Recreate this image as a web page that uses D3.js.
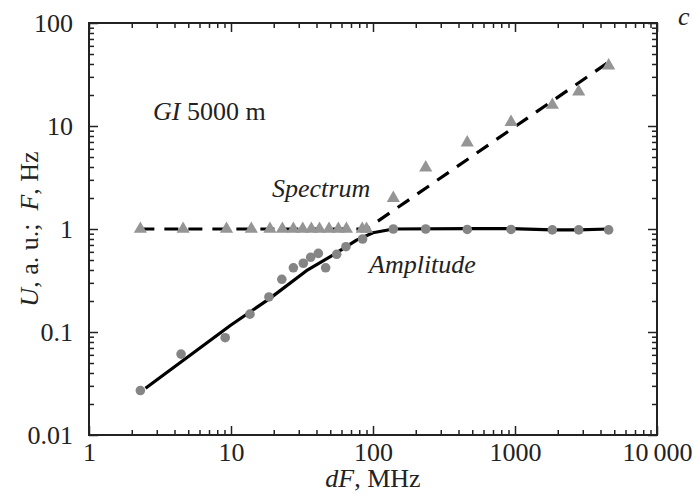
<!DOCTYPE html>
<html>
<head>
<meta charset="utf-8">
<script src="https://cdn.jsdelivr.net/npm/d3@7"></script>
<style>
  body { margin: 0; background: #fff; }
  svg { display: block; }
  text { font-family: "Liberation Serif", "Times New Roman", serif; }
  .tick text { font-size: 26px; fill: #222; }
  .lbl { font-size: 26px; fill: #222; }
</style>
</head>
<body>
<svg width="693" height="495"></svg>
<script>
// values (dF in MHz)
const ampFreq = [2.3, 4.45, 9.1, 13.6, 18.5, 22.8, 27.5, 32.3, 36.4, 41.2, 46.4, 55.5, 64.5, 84.5, 139, 235, 461, 938, 1832, 2810, 4565]
const ampValue = [0.027, 0.061, 0.088, 0.149, 0.219, 0.325, 0.42, 0.465, 0.531, 0.58, 0.42, 0.568, 0.673, 0.8, 1.0, 1.0, 0.99, 0.99, 0.98, 0.98, 0.98]

const specFreq = [2.3, 4.6, 9.3, 13.9, 18.8, 23, 27.5, 32, 36.8, 42, 49, 57, 65, 84, 90, 139, 235, 461, 938, 1832, 2810, 4565]
const specValue = [1, 1, 1, 1, 1, 1, 1, 1, 1, 1, 1, 1, 1, 1, 1, 1.99, 3.94, 6.89, 10.9, 16.0, 21.5, 38.5]

// fitted curves
const ampFitFreq = [2.5, 10, 18.8, 34, 52.5, 76.6, 100, 139, 460, 940, 1830, 2800, 4565]
const ampFitValue = [0.0284, 0.117, 0.212, 0.394, 0.56, 0.78, 0.92, 1.0, 1.01, 1.01, 0.98, 0.98, 1.0]
const specFitFreq = [2.3, 90, 4600]
const specFitValue = [1, 1, 42]

const xTickValues = [1, 10, 100, 1000, 10000]
const xTickLabels = ['1', '10', '100', '1000', '10\u2009000']
const yTickValues = [0.01, 0.1, 1, 10, 100]
const yTickLabels = ['0.01', '0.1', '1', '10', '100']

const margin = { left: 89, right: 36, top: 23, bottom: 60 }
const width = 693, height = 495
const svg = d3.select('svg')

const x = d3.scaleLog().domain([1, 10000]).range([margin.left, width - margin.right])
const y = d3.scaleLog().domain([0.01, 100]).range([height - margin.bottom, margin.top])

const minorX = x.ticks().filter(v => !xTickValues.includes(v))
const minorY = y.ticks().filter(v => !yTickValues.some(t => Math.abs(t - v) < 1e-9))

// axes: ticks point inward on all four sides
function styleAxis(g) {
  g.select('.domain').remove()
  g.attr('font-family', null).attr('font-size', null)
  g.selectAll('.tick line').attr('stroke', '#222').attr('stroke-width', 1.5)
}

svg.append('g').attr('transform', `translate(0,${y.range()[0]})`)
  .call(d3.axisBottom(x).tickValues(xTickValues).tickSize(-9).tickPadding(8)
    .tickFormat((d, i) => xTickLabels[i]))
  .call(styleAxis)
svg.append('g').attr('transform', `translate(0,${y.range()[0]})`)
  .call(d3.axisBottom(x).tickValues(minorX).tickSize(-5).tickFormat(''))
  .call(styleAxis)
svg.append('g').attr('transform', `translate(0,${y.range()[1]})`)
  .call(d3.axisTop(x).tickValues(xTickValues).tickSize(-9).tickFormat(''))
  .call(styleAxis)
svg.append('g').attr('transform', `translate(0,${y.range()[1]})`)
  .call(d3.axisTop(x).tickValues(minorX).tickSize(-5).tickFormat(''))
  .call(styleAxis)

svg.append('g').attr('transform', `translate(${x.range()[0]},0)`)
  .call(d3.axisLeft(y).tickValues(yTickValues).tickSize(-9).tickPadding(16)
    .tickFormat((d, i) => yTickLabels[i]))
  .call(styleAxis)
svg.append('g').attr('transform', `translate(${x.range()[0]},0)`)
  .call(d3.axisLeft(y).tickValues(minorY).tickSize(-5).tickFormat(''))
  .call(styleAxis)
svg.append('g').attr('transform', `translate(${x.range()[1]},0)`)
  .call(d3.axisRight(y).tickValues(yTickValues).tickSize(-9).tickFormat(''))
  .call(styleAxis)
svg.append('g').attr('transform', `translate(${x.range()[1]},0)`)
  .call(d3.axisRight(y).tickValues(minorY).tickSize(-5).tickFormat(''))
  .call(styleAxis)

// frame
svg.append('rect')
  .attr('x', x.range()[0]).attr('y', y.range()[1])
  .attr('width', x.range()[1] - x.range()[0])
  .attr('height', y.range()[0] - y.range()[1])
  .attr('fill', 'none').attr('stroke', '#222').attr('stroke-width', 2)

// fit lines
const line = d3.line().x(d => x(d[0])).y(d => y(d[1]))

svg.append('path')
  .datum(d3.zip(ampFitFreq, ampFitValue))
  .attr('d', line)
  .attr('fill', 'none').attr('stroke', '#000').attr('stroke-width', 3.2)
  .attr('stroke-linejoin', 'round')

svg.append('path')
  .datum(d3.zip(specFitFreq, specFitValue))
  .attr('d', line)
  .attr('fill', 'none').attr('stroke', '#000').attr('stroke-width', 3.2)
  .attr('stroke-dasharray', '14,10')

// markers
svg.append('g').selectAll('circle')
  .data(d3.zip(ampFreq, ampValue))
  .join('circle')
  .attr('cx', d => x(d[0])).attr('cy', d => y(d[1]))
  .attr('r', 4.8)
  .attr('fill', '#858585')

svg.append('g').selectAll('path')
  .data(d3.zip(specFreq, specValue))
  .join('path')
  .attr('d', d3.symbol(d3.symbolTriangle, 75))
  .attr('transform', d => `translate(${x(d[0])},${y(d[1])})`)
  .attr('fill', '#959595')

// labels
const gi = svg.append('text').attr('class', 'lbl').attr('x', 153).attr('y', 120)
gi.append('tspan').attr('font-style', 'italic').text('GI')
gi.append('tspan').text(' 5000 m')

svg.append('text').attr('class', 'lbl').attr('x', 272).attr('y', 197)
  .attr('font-style', 'italic').text('Spectrum')
svg.append('text').attr('class', 'lbl').attr('x', 369).attr('y', 273)
  .attr('font-style', 'italic').text('Amplitude')
svg.append('text').attr('class', 'lbl').attr('x', 678).attr('y', 25)
  .attr('font-style', 'italic').text('c')

const xl = svg.append('text').attr('class', 'lbl')
  .attr('x', (x.range()[0] + x.range()[1]) / 2).attr('y', 487)
  .attr('text-anchor', 'middle')
xl.append('tspan').attr('font-style', 'italic').text('dF')
xl.append('tspan').text(', MHz')

const yl = svg.append('text').attr('class', 'lbl')
  .attr('transform', `translate(38,${(y.range()[0] + y.range()[1]) / 2}) rotate(-90)`)
  .attr('text-anchor', 'middle')
yl.append('tspan').attr('font-style', 'italic').text('U')
yl.append('tspan').text(', a. u.;\u2002')
yl.append('tspan').attr('font-style', 'italic').text('F')
yl.append('tspan').text(', Hz')
</script>
</body>
</html>
